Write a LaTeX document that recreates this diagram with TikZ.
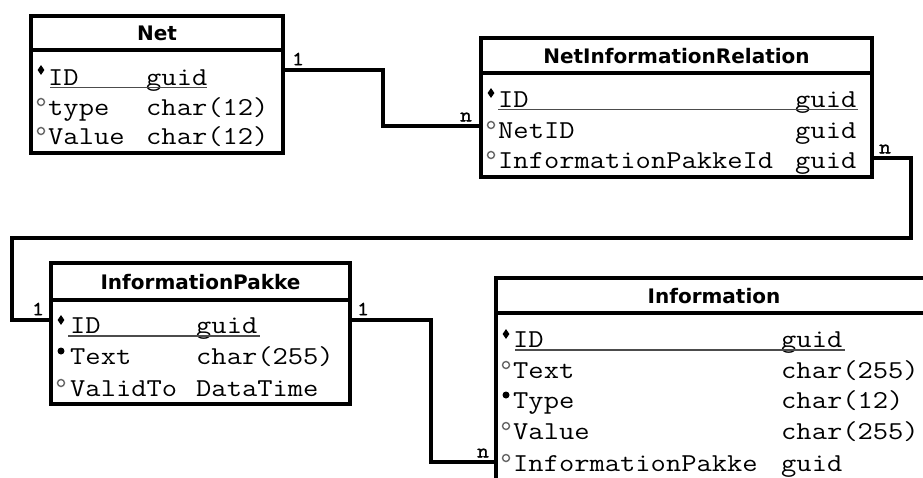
\documentclass[tikz,border=0pt]{standalone}
\usepackage{fontspec}
\usetikzlibrary{shapes.geometric}
\newfontfamily\monof{Latin Modern Mono}[FakeStretch=1.15]
\newfontfamily\cardf{Latin Modern Mono}[FakeStretch=1.15, FakeBold=1.5]
\newfontfamily\titlef{DejaVu Sans}
\tikzset{
  box/.style={draw, line width=3.2pt, inner sep=0pt, outer sep=0pt, anchor=north west},
  sepline/.style={line width=3.2pt},
  conn/.style={line width=3.2pt},
  ttl/.style={inner sep=0pt, font=\titlef\bfseries\fontsize{20}{22}\selectfont},
  fld/.style={inner sep=0pt, anchor=base west, font=\monof\fontsize{25.8}{26}\selectfont},
  card/.style={inner sep=0pt, font=\cardf\fontsize{20}{20}\selectfont},
  ul/.style={line width=1.8pt, draw=black!70},
  keymk/.style={diamond, fill=black, inner sep=0pt, minimum width=7pt, minimum height=10pt},
  reqmk/.style={circle, fill=black, inner sep=0pt, minimum size=7pt},
  optmk/.style={circle, draw=black!60, line width=1.4pt, inner sep=0pt, minimum size=7pt},
}
\begin{document}
\begin{tikzpicture}[x=1pt, y=-1pt]
\useasboundingbox (0,0) rectangle (923,477);
\clip (0,0) rectangle (923,477);
\fill[white] (0,0) rectangle (923,477);

% ---------- Net ----------
\node[box, minimum width=252pt, minimum height=137pt] (net) at (31,16) {};
\draw[sepline] (net.west |- 0,50) -- (net.east |- 0,50);
\node[ttl] (netT) at (157,33) {Net};
\node[keymk] (netM1) at (41,70) {};
\node[optmk] (netM2) at (41,102) {};
\node[optmk] (netM3) at (41,131) {};
\node[fld] (netA1) at (48,85) {ID};
\node[fld] (netB1) at (146,85) {guid};
\node[fld] (netA2) at (48,115.5) {type};
\node[fld] (netB2) at (146,115.5) {char(12)};
\node[fld] (netA3) at (48,144.5) {Value};
\node[fld] (netB3) at (146,144.5) {char(12)};
\draw[ul] (50,87.5) -- (207,87.5);

% ---------- NetInformationRelation ----------
\node[box, minimum width=391pt, minimum height=139pt] (nir) at (481,38) {};
\draw[sepline] (nir.west |- 0,73) -- (nir.east |- 0,73);
\node[ttl] (nirT) at (676.5,56) {NetInformationRelation};
\node[keymk] (nirM1) at (491,93) {};
\node[optmk] (nirM2) at (491,125) {};
\node[optmk] (nirM3) at (491,155) {};
\node[fld] (nirA1) at (498,107) {ID};
\node[fld] (nirB1) at (795,107) {guid};
\node[fld] (nirA2) at (498,138.5) {NetID};
\node[fld] (nirB2) at (795,138.5) {guid};
\node[fld] (nirA3) at (498,168.5) {InformationPakkeId};
\node[fld] (nirB3) at (795,168.5) {guid};
\draw[ul] (498,109.5) -- (858,109.5);

% ---------- InformationPakke ----------
\node[box, minimum width=299pt, minimum height=141pt] (ip) at (51,263) {};
\draw[sepline] (ip.west |- 0,300) -- (ip.east |- 0,300);
\node[ttl] (ipT) at (200.5,282) {InformationPakke};
\node[keymk] (ipM1) at (61,320) {};
\node[reqmk] (ipM2) at (61,351) {};
\node[optmk] (ipM3) at (61,383) {};
\node[fld] (ipA1) at (70,333.5) {ID};
\node[fld] (ipB1) at (196,333.5) {guid};
\node[fld] (ipA2) at (70,364.5) {Text};
\node[fld] (ipB2) at (196,364.5) {char(255)};
\node[fld] (ipA3) at (70,396.5) {ValidTo};
\node[fld] (ipB3) at (196,396.5) {DataTime};
\draw[ul] (68,336) -- (260,336);

% ---------- Information ----------
\node[box, minimum width=436pt, minimum height=240pt] (info) at (496,278) {};
\draw[sepline] (info.west |- 0,313) -- (info.east |- 0,313);
\node[ttl] (infoT) at (714,296) {Information};
\node[keymk] (infoM1) at (506,334) {};
\node[optmk] (infoM2) at (506,365) {};
\node[reqmk] (infoM3) at (506,395) {};
\node[optmk] (infoM4) at (506,426) {};
\node[optmk] (infoM5) at (506,458) {};
\node[fld] (infoA1) at (513,347.5) {ID};
\node[fld] (infoB1) at (781,347.5) {guid};
\node[fld] (infoA2) at (513,378.5) {Text};
\node[fld] (infoB2) at (781,378.5) {char(255)};
\node[fld] (infoA3) at (513,408.5) {Type};
\node[fld] (infoB3) at (781,408.5) {char(12)};
\node[fld] (infoA4) at (513,439.5) {Value};
\node[fld] (infoB4) at (781,439.5) {char(255)};
\node[fld] (infoA5) at (513,471.5) {InformationPakke};
\node[fld] (infoB5) at (781,471.5) {guid};
\draw[ul] (515,350) -- (845,350);

% ---------- connectors ----------
\draw[conn] (net.east |- 0,70) -- (383,70) |- (nir.west |- 0,126);
\draw[conn] (nir.east |- 0,158) -| (911,238) -| (12,320) -- (ip.west |- 0,320);
\draw[conn] (ip.east |- 0,320) -| (431,462) -- (info.west |- 0,462);

% ---------- cardinalities ----------
\node[card] (c1) at (298,59) {1};
\node[card] (c2) at (466,117) {n};
\node[card] (c3) at (885,149) {n};
\node[card] (c4) at (38,309) {1};
\node[card] (c5) at (363,309) {1};
\node[card] (c6) at (483,453) {n};
\end{tikzpicture}
\end{document}
